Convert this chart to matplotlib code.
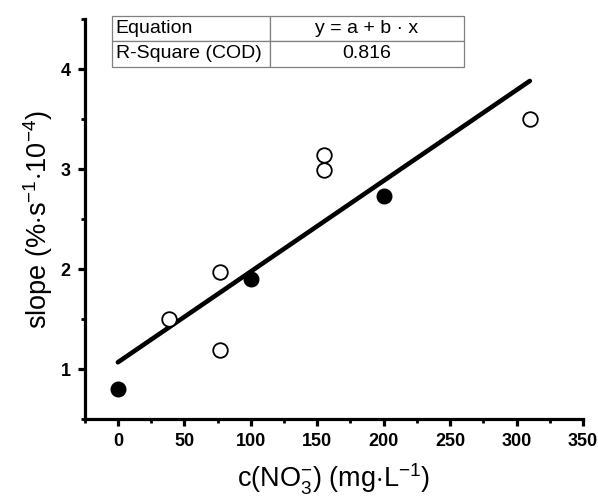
import numpy as np
import matplotlib.pyplot as plt

plt.rcParams["font.family"] = ["Liberation Sans", "DejaVu Sans"]
plt.rcParams["mathtext.fontset"] = "custom"
plt.rcParams["mathtext.rm"] = "Liberation Sans"
plt.rcParams["mathtext.it"] = "Liberation Sans:italic"
plt.rcParams["mathtext.bf"] = "Liberation Sans:bold"

# 数据: 实心点 / 空心点
x_filled = [0, 100, 200]
y_filled = [0.80, 1.90, 2.73]
x_open = [38.5, 77, 77, 155, 155, 310]
y_open = [1.50, 1.97, 1.19, 3.14, 2.99, 3.50]

table_rows = [["Equation", "y = a + b · x"],
              ["R-Square (COD)", "0.816"]]
x_ticks = [0, 50, 100, 150, 200, 250, 300, 350]
y_ticks = [1, 2, 3, 4]


def plot_slope():
    fig = plt.figure(figsize=(5.98, 4.97), dpi=100)
    ax = fig.add_axes([0.1416, 0.1563, 0.8333, 0.8054])

    # 线性拟合
    x_all = np.array(x_filled + x_open)
    y_all = np.array(y_filled + y_open)
    b, a = np.polyfit(x_all, y_all, 1)
    x_fit = np.array([x_all.min(), x_all.max()])
    ax.plot(x_fit, a + b * x_fit, color='black', linewidth=3.3,
            solid_capstyle='round', zorder=2)

    ax.plot(x_filled, y_filled, 'o', color='black', markersize=10.5, zorder=3)
    ax.plot(x_open, y_open, 'o', markerfacecolor='white', markeredgecolor='black',
            markeredgewidth=1.3, markersize=10.5, zorder=3)

    ax.set_xlim(-25, 350)
    ax.set_ylim(0.5, 4.5)
    ax.set_xticks(x_ticks)
    ax.set_yticks(y_ticks)
    ax.set_xticks(np.arange(-25, 351, 25), minor=True)
    ax.set_yticks(np.arange(0.5, 4.51, 0.5), minor=True)

    for side in ['top', 'right']:
        ax.spines[side].set_visible(False)
    for side in ['left', 'bottom']:
        ax.spines[side].set_linewidth(2.3)

    ax.tick_params(which='major', direction='out', length=5, width=2.3,
                   labelsize=13, pad=5)
    ax.tick_params(which='minor', direction='out', length=3, width=2.0)
    for lab in ax.get_xticklabels() + ax.get_yticklabels():
        lab.set_fontweight('bold')

    ax.set_xlabel(r'c(NO$_3^{-}$) (mg$\cdot$L$^{-1}$)', fontsize=19.5, labelpad=8)
    ax.set_ylabel(r'slope (%$\cdot$s$^{-1}$$\cdot$10$^{-4}$)', fontsize=19.5, labelpad=4)

    # 表格
    tab = ax.table(cellText=table_rows, colWidths=[0.318, 0.389],
                   cellLoc='center', bbox=[0.054, 0.881, 0.707, 0.127])
    tab.auto_set_font_size(False)
    tab.set_fontsize(14)
    for (r, c), cell in tab.get_celld().items():
        cell.set_edgecolor('#808080')
        cell.set_linewidth(0.9)
        cell.set_clip_on(False)
        if c == 0:
            cell._loc = 'left'
            cell.PAD = 0.025
            cell.get_text().set_horizontalalignment('left')
    tab.set_clip_on(False)

    fig.savefig('out.png', dpi=100)


if __name__ == "__main__":
    plot_slope()
